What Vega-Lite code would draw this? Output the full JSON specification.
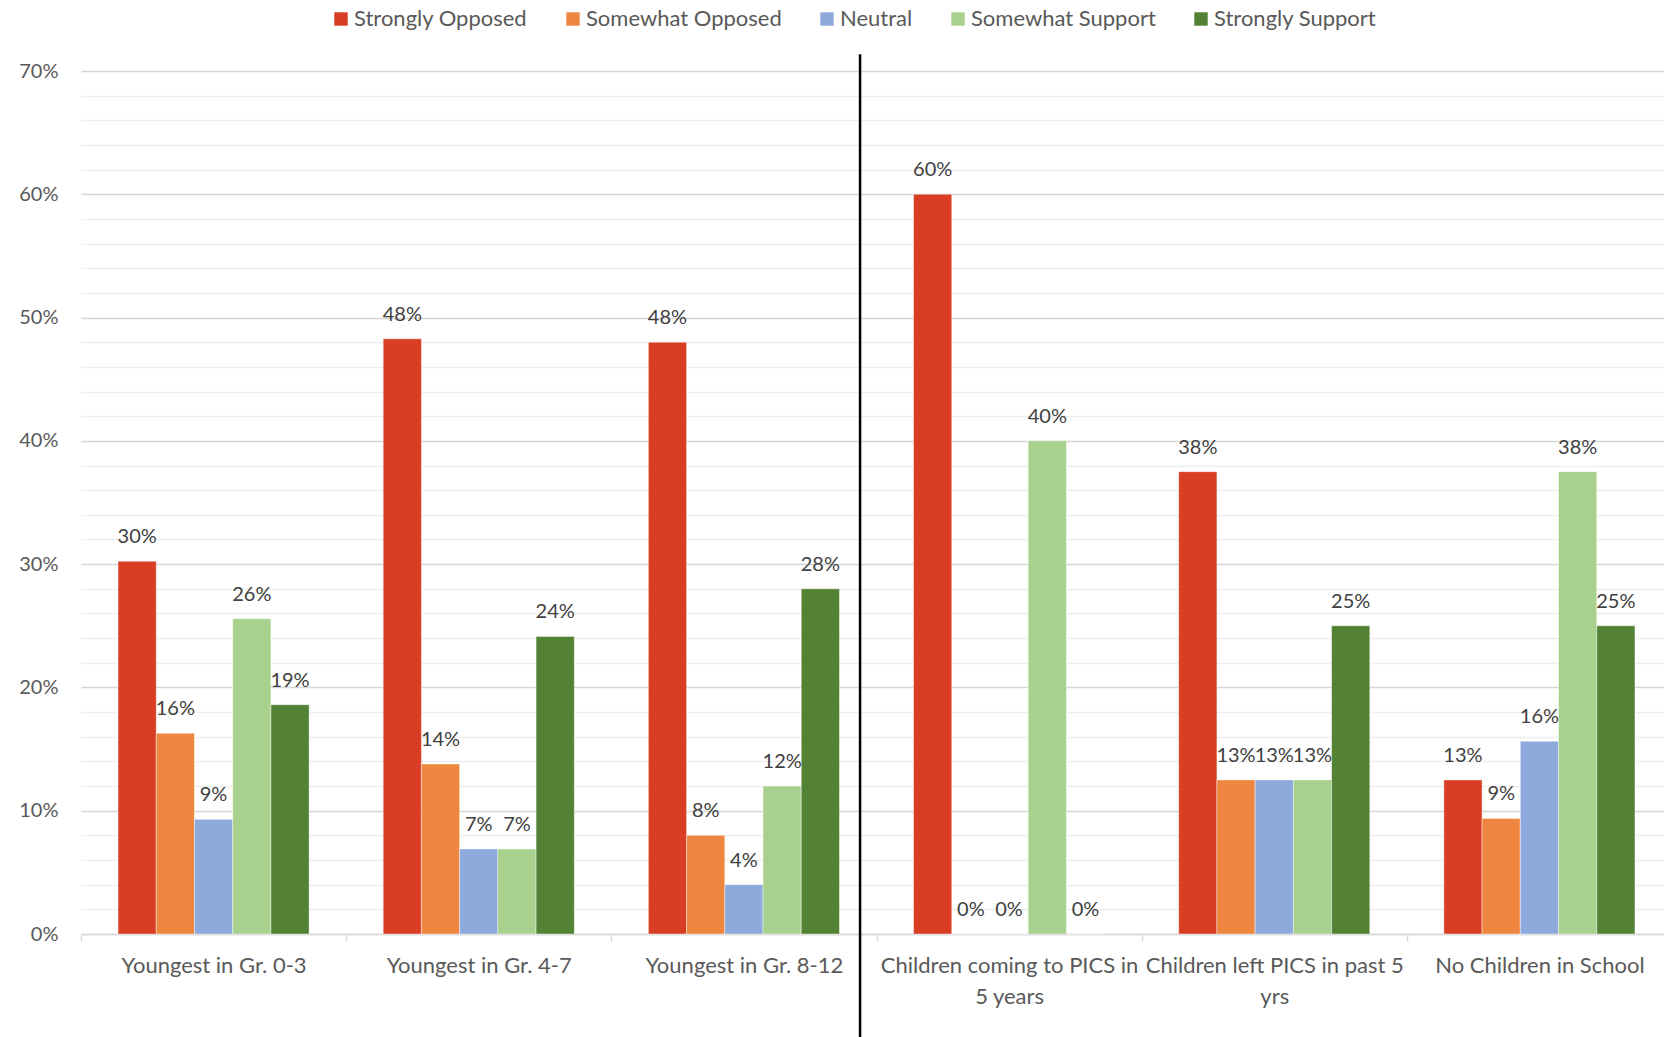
{
  "$schema": "https://vega.github.io/schema/vega-lite/v6.json",
  "width": 1591,
  "height": 863,
  "autosize": {"type": "none"},
  "padding": {"left": 81, "top": 71, "right": -8, "bottom": 103},
  "background": "white",
  "config": {
    "view": {"stroke": null},
    "font": "Lato"
  },
  "datasets": {
    "survey": [
      {"group": "Youngest in Gr. 0-3", "response": "Strongly Opposed", "share": 0.3023},
      {"group": "Youngest in Gr. 0-3", "response": "Somewhat Opposed", "share": 0.1628},
      {"group": "Youngest in Gr. 0-3", "response": "Neutral", "share": 0.0930},
      {"group": "Youngest in Gr. 0-3", "response": "Somewhat Support", "share": 0.2558},
      {"group": "Youngest in Gr. 0-3", "response": "Strongly Support", "share": 0.1860},
      {"group": "Youngest in Gr. 4-7", "response": "Strongly Opposed", "share": 0.4828},
      {"group": "Youngest in Gr. 4-7", "response": "Somewhat Opposed", "share": 0.1379},
      {"group": "Youngest in Gr. 4-7", "response": "Neutral", "share": 0.0690},
      {"group": "Youngest in Gr. 4-7", "response": "Somewhat Support", "share": 0.0690},
      {"group": "Youngest in Gr. 4-7", "response": "Strongly Support", "share": 0.2414},
      {"group": "Youngest in Gr. 8-12", "response": "Strongly Opposed", "share": 0.48},
      {"group": "Youngest in Gr. 8-12", "response": "Somewhat Opposed", "share": 0.08},
      {"group": "Youngest in Gr. 8-12", "response": "Neutral", "share": 0.04},
      {"group": "Youngest in Gr. 8-12", "response": "Somewhat Support", "share": 0.12},
      {"group": "Youngest in Gr. 8-12", "response": "Strongly Support", "share": 0.28},
      {"group": "Children coming to PICS in 5 years", "response": "Strongly Opposed", "share": 0.6},
      {"group": "Children coming to PICS in 5 years", "response": "Somewhat Opposed", "share": 0},
      {"group": "Children coming to PICS in 5 years", "response": "Neutral", "share": 0},
      {"group": "Children coming to PICS in 5 years", "response": "Somewhat Support", "share": 0.4},
      {"group": "Children coming to PICS in 5 years", "response": "Strongly Support", "share": 0},
      {"group": "Children left PICS in past 5 yrs", "response": "Strongly Opposed", "share": 0.375},
      {"group": "Children left PICS in past 5 yrs", "response": "Somewhat Opposed", "share": 0.125},
      {"group": "Children left PICS in past 5 yrs", "response": "Neutral", "share": 0.125},
      {"group": "Children left PICS in past 5 yrs", "response": "Somewhat Support", "share": 0.125},
      {"group": "Children left PICS in past 5 yrs", "response": "Strongly Support", "share": 0.25},
      {"group": "No Children in School", "response": "Strongly Opposed", "share": 0.125},
      {"group": "No Children in School", "response": "Somewhat Opposed", "share": 0.09375},
      {"group": "No Children in School", "response": "Neutral", "share": 0.15625},
      {"group": "No Children in School", "response": "Somewhat Support", "share": 0.375},
      {"group": "No Children in School", "response": "Strongly Support", "share": 0.25}
    ],
    "divider": [
      {"group": "Youngest in Gr. 8-12", "top": 0.7135, "bottom": -0.09}
    ]
  },
  "layer": [
    {
      "data": {"name": "survey"},
      "mark": {"type": "bar", "stroke": "#ffffff", "strokeWidth": 0.6, "strokeOpacity": 0.7},
      "encoding": {
        "x": {
          "field": "group",
          "type": "nominal",
          "scale": {
            "domain": ["Youngest in Gr. 0-3", "Youngest in Gr. 4-7", "Youngest in Gr. 8-12", "Children coming to PICS in 5 years", "Children left PICS in past 5 yrs", "No Children in School"],
            "paddingInner": 0,
            "paddingOuter": 0
          },
          "axis": {
            "title": null,
            "domainColor": "#d9d9d9",
            "domainWidth": 1.5,
            "tickColor": "#d9d9d9",
            "tickWidth": 1.5,
            "tickSize": 7,
            "tickBand": "extent",
            "labelAngle": 0,
            "labelFont": "Lato",
            "labelFontSize": 22,
            "labelColor": "#595959",
            "labelBaseline": "alphabetic",
            "labelPadding": 31,
            "labelLineHeight": 31,
            "labelLimit": 400,
            "labelOverlap": false,
            "grid": false,
            "labelExpr": "datum.label == 'Children coming to PICS in 5 years' ? ['Children coming to PICS in', '5 years'] : datum.label == 'Children left PICS in past 5 yrs' ? ['Children left PICS in past 5', 'yrs'] : datum.label"
          }
        },
        "xOffset": {
          "field": "response",
          "type": "nominal",
          "sort": ["Strongly Opposed", "Somewhat Opposed", "Neutral", "Somewhat Support", "Strongly Support"],
          "scale": {"paddingInner": 0, "paddingOuter": 0.969}
        },
        "y": {
          "field": "share",
          "type": "quantitative",
          "scale": {"domain": [0, 0.7], "nice": false, "zero": true},
          "axis": {
            "title": null,
            "tickCount": 40,
            "values": [0, 0.02, 0.04, 0.06, 0.08, 0.1, 0.12, 0.14, 0.16, 0.18, 0.2, 0.22, 0.24, 0.26, 0.28, 0.3, 0.32, 0.34, 0.36, 0.38, 0.4, 0.42, 0.44, 0.46, 0.48, 0.5, 0.52, 0.54, 0.56, 0.58, 0.6, 0.62, 0.64, 0.66, 0.68, 0.69999],
            "labelExpr": "round(datum.value * 100) % 10 === 0 ? format(datum.value, '.0%') : ''",
            "labelOverlap": false,
            "labelBound": false,
            "domain": false,
            "ticks": false,
            "labelPadding": 23,
            "labelFont": "Lato",
            "labelFontSize": 20,
            "labelColor": "#595959",
            "grid": true,
            "gridWidth": 1.4,
            "gridColor": {"condition": {"test": "round(datum.value * 100) % 10 === 0", "value": "#d6d6d6"}, "value": "#eeeeee"}
          }
        },
        "color": {
          "field": "response",
          "type": "nominal",
          "scale": {
            "domain": ["Strongly Opposed", "Somewhat Opposed", "Neutral", "Somewhat Support", "Strongly Support"],
            "range": ["#d93e24", "#ee8640", "#8eaadc", "#a9d18e", "#548235"]
          },
          "legend": {
            "title": null,
            "orient": "none",
            "direction": "horizontal",
            "legendX": 249,
            "legendY": -63,
            "symbolType": "square",
            "symbolSize": 180,
            "symbolStrokeWidth": 0,
            "labelFont": "Lato",
            "labelFontSize": 22,
            "labelLimit": 400,
            "labelColor": "#595959",
            "labelOffset": 2,
            "columnPadding": 34
          }
        }
      }
    },
    {
      "data": {"name": "survey"},
      "mark": {"type": "text", "baseline": "alphabetic", "align": "center", "dy": -18, "font": "Lato", "fontSize": 20, "color": "#404040"},
      "encoding": {
        "x": {"field": "group", "type": "nominal"},
        "xOffset": {"field": "response", "type": "nominal", "sort": ["Strongly Opposed", "Somewhat Opposed", "Neutral", "Somewhat Support", "Strongly Support"]},
        "y": {"field": "share", "type": "quantitative"},
        "text": {"field": "share", "type": "quantitative", "format": ".0%"}
      }
    },
    {
      "data": {"name": "divider"},
      "mark": {"type": "rule", "color": "#000000", "strokeWidth": 2.5, "clip": false},
      "encoding": {
        "x": {"field": "group", "type": "nominal", "bandPosition": 0.938},
        "y": {"field": "top", "type": "quantitative"},
        "y2": {"field": "bottom"}
      }
    }
  ]
}
